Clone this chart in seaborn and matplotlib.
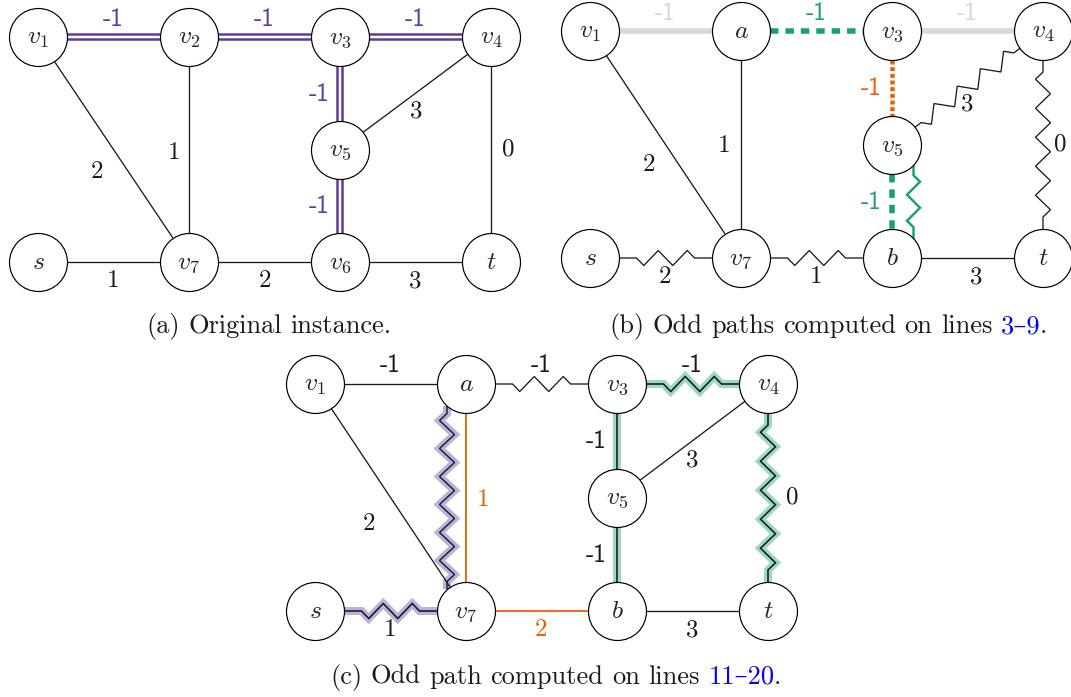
import numpy as np
import pandas as pd
import matplotlib
matplotlib.use("Agg")
import matplotlib.pyplot as plt
import seaborn as sns

# ---------------- data ----------------
node_names_a = ["v_1", "v_2", "v_3", "v_4", "v_5", "s", "v_7", "v_6", "t"]
node_names_bc = ["v_1", "a", "v_3", "v_4", "v_5", "s", "v_7", "b", "t"]
node_col = [0, 1, 2, 3, 2, 0, 1, 2, 3]
node_row = [0, 0, 0, 0, 0.5, 1, 1, 1, 1]

edge_u = [0, 1, 2, 2, 4, 0, 1, 3, 3, 5, 6, 7]
edge_v = [1, 2, 3, 4, 7, 6, 6, 4, 8, 6, 7, 8]
weights_a = [-1, -1, -1, -1, -1, 2, 1, 3, 0, 1, 2, 3]
weights_b = [-1, -1, -1, -1, -1, 2, 1, 3, 0, 2, 1, 3]
weights_c = [-1, -1, -1, -1, -1, 2, 1, 3, 0, 1, 2, 3]

captions = {
    "a": [("(a)", "k"), ("Original", "k"), ("instance.", "k")],
    "b": [("(b)", "k"), ("Odd", "k"), ("paths", "k"), ("computed", "k"), ("on", "k"),
          ("lines", "k"), ("3–9", "#0000ff"), (".", "k")],
    "c": [("(c)", "k"), ("Odd", "k"), ("path", "k"), ("computed", "k"), ("on", "k"),
          ("lines", "k"), ("11–20", "#0000ff"), (".", "k")],
}

# ---------------- styles / layout ----------------
PURPLE = "#5e3c99"
GREEN = "#1b9e77"
ORANGE = "#e66101"
GRAY = "#d8d8d8"
TEAL_HALO = "#9dd8c4"
PURPLE_HALO = "#bcb0dc"
PX = 0.72  # points per pixel at 100 dpi
R = 29.0   # node radius in pixels

panel_geom = {
    "a": dict(x0=38, y0=37, dx=151, dy=225),
    "b": dict(x0=590, y0=31, dx=151, dy=227),
    "c": dict(x0=315, y0=384, dx=151, dy=227),
}
caption_pos = {"a": (146, 333), "b": (609, 333), "c": (330, 684)}
CAP_FS = 19
SPACE_PX = 8.5

style_a = [("double", PURPLE, None, PURPLE)] * 5 + [("plain", "k", None, "k")] * 7
style_b = [("gray", GRAY, None, GRAY), ("dash", GREEN, None, GREEN), ("gray", GRAY, None, GRAY),
           ("dot", ORANGE, None, ORANGE), ("dash", GREEN, None, GREEN),
           ("plain", "k", None, "k"), ("plain", "k", None, "k"), ("zig", "k", None, "k"),
           ("zig", "k", None, "k"), ("zig", "k", None, "k"), ("zig", "k", None, "k"),
           ("plain", "k", None, "k")]
style_c = [("plain", "k", None, "k"), ("zig", "k", None, "k"), ("zig", "k", TEAL_HALO, "k"),
           ("plain", "k", TEAL_HALO, "k"), ("plain", "k", TEAL_HALO, "k"),
           ("plain", "k", None, "k"), ("plain", ORANGE, None, ORANGE), ("plain", "k", None, "k"),
           ("zig", "k", TEAL_HALO, "k"), ("zig", "k", PURPLE_HALO, "k"),
           ("plain", ORANGE, None, ORANGE), ("plain", "k", None, "k")]

lab_off = {
    "a": [(0, -18), (0, -18), (0, -18), (-21, 1), (-21, 1), (-16, 22), (-15, 3), (1, 18),
          (17, 0), (0, 19), (0, 19), (0, 19)],
    "b": [(0, -18), (0, -18), (0, -18), (-21, 1), (-21, 1), (-17, 20), (-17, 1), (0, 17),
          (17, 0), (0, 19), (0, 19), (9, 19)],
    "c": [(0, -18), (0, -18), (0, -18), (-21, 1), (-21, 1), (-22, 26), (17, 2), (0, 20),
          (24, 0), (0, 19), (0, 19), (0, 19)],
}
# extra parallel zigzags: panel -> (edge index, perpendicular offset px, colour, lw px, halo)
extras = {"b": (4, -21.5, GREEN, 2.4, None), "c": (6, 19.0, "k", 1.4, PURPLE_HALO)}

sns.set_theme(style="white")
plt.rcParams["mathtext.fontset"] = "cm"
plt.rcParams["lines.scale_dashes"] = False

fig = plt.figure(figsize=(10.71, 6.97), dpi=100)
ax = fig.add_axes([0, 0, 1, 1])
ax.set_xlim(0, 1071)
ax.set_ylim(697, 0)
ax.axis("off")

FS = 18


def zigzag(p0, p1, period=29.0, amp=7.5, minpre=6.0):
    p0 = np.asarray(p0, float)
    p1 = np.asarray(p1, float)
    d = p1 - p0
    L = np.hypot(*d)
    u = d / L
    n = np.array([-u[1], u[0]])
    nseg = int((L - 2 * minpre) // period)
    pre = (L - nseg * period) / 2
    pts = [p0, p0 + u * pre]
    for k in range(2 * nseg):
        s = pre + period / 4 + k * period / 2
        sign = 1 if k % 2 == 0 else -1
        pts.append(p0 + u * s + n * amp * sign)
    pts.append(p0 + u * (pre + nseg * period))
    pts.append(p1)
    return np.array(pts)


def endpoints(c0, c1, off=0.0):
    c0 = np.asarray(c0, float)
    c1 = np.asarray(c1, float)
    d = c1 - c0
    u = d / np.hypot(*d)
    n = np.array([-u[1], u[0]])
    a = np.sqrt(R ** 2 - off ** 2)
    return c0 + n * off + u * a, c1 + n * off - u * a


def draw_path(pts, color, lw_px, halo=None, **kw):
    if halo is not None:
        ax.plot(pts[:, 0], pts[:, 1], color=halo, lw=8 * PX, solid_capstyle="butt",
                solid_joinstyle="miter", zorder=1)
    ax.plot(pts[:, 0], pts[:, 1], color=color, lw=lw_px * PX, zorder=2,
            solid_joinstyle="miter", **kw)


fig.canvas.draw()
rend = fig.canvas.get_renderer()

for key, names, weights, styles in [("a", node_names_a, weights_a, style_a),
                                    ("b", node_names_bc, weights_b, style_b),
                                    ("c", node_names_bc, weights_c, style_c)]:
    g = panel_geom[key]
    df = pd.DataFrame({
        "name": names,
        "x": [g["x0"] + c * g["dx"] for c in node_col],
        "y": [g["y0"] + r * g["dy"] for r in node_row],
    })
    pos = df[["x", "y"]].to_numpy()

    for i, (u, v) in enumerate(zip(edge_u, edge_v)):
        kind, col, halo, lcol = styles[i]
        p0, p1 = endpoints(pos[u], pos[v])
        line = np.array([p0, p1])
        if kind == "plain":
            lw = 1.6 if halo is not None else (1.8 if col != "k" else 1.3)
            draw_path(line, col, lw, halo, solid_capstyle="butt")
        elif kind == "double":
            ax.plot(line[:, 0], line[:, 1], color=col, lw=7.5 * PX, solid_capstyle="butt", zorder=2)
            ax.plot(line[:, 0], line[:, 1], color="white", lw=2.5 * PX, solid_capstyle="butt", zorder=2)
        elif kind == "gray":
            ax.plot(line[:, 0], line[:, 1], color=col, lw=5.5 * PX, solid_capstyle="butt", zorder=2)
        elif kind == "dash":
            ax.plot(line[:, 0], line[:, 1], color=col, lw=5.5 * PX, dashes=(6.1, 5.0),
                    dash_capstyle="butt", zorder=2)
        elif kind == "dot":
            ax.plot(line[:, 0], line[:, 1], color=col, lw=4.5 * PX, dashes=(2.9, 1.9),
                    dash_capstyle="butt", zorder=2)
        elif kind == "zig":
            pts = zigzag(p0, p1)
            draw_path(pts, col, 1.6 if halo is not None else 1.3, halo)
        # weight label
        mid = (pos[u] + pos[v]) / 2
        ox, oy = lab_off[key][i]
        w = weights[i]
        fam = "cmss10" if w < 0 else "cmr10"
        ax.text(mid[0] + ox, mid[1] + oy, str(w), color=lcol, fontsize=FS, family=fam,
                ha="center", va="center", zorder=4)

    if key in extras:
        ei, off, col, lw, halo = extras[key]
        p0, p1 = endpoints(pos[edge_u[ei]], pos[edge_v[ei]], off)
        pts = zigzag(p0, p1, period=26 if key == "b" else 28, amp=-6.5 if key == "b" else 7.5,
                     minpre=3)
        draw_path(pts, col, lw, halo)

    # nodes (seaborn scatter, size in points^2)
    sns.scatterplot(data=df, x="x", y="y", ax=ax, s=(2 * R * PX) ** 2, marker="o",
                    color="white", edgecolor="black", linewidth=1.2 * PX, zorder=3, legend=False)
    for _, row in df.iterrows():
        ax.text(row.x, row.y, f"${row['name']}$", fontsize=FS + 0.5, ha="center", va="center",
                zorder=5)

    # caption, word by word
    x, y = caption_pos[key]
    parts = captions[key]
    for j, (txt, col) in enumerate(parts):
        t = ax.text(x, y, txt, color=col, fontsize=CAP_FS, family=["cmr10", "DejaVu Serif"],
                    ha="left", va="baseline", zorder=5)
        bb = t.get_window_extent(renderer=rend)
        x += bb.width
        nxt = parts[j + 1][0] if j + 1 < len(parts) else ""
        if nxt and nxt != ".":
            x += SPACE_PX

ax.set_xlim(0, 1071)
ax.set_ylim(697, 0)
ax.set_xlabel("")
ax.set_ylabel("")
fig.savefig("out.png", dpi=100)
